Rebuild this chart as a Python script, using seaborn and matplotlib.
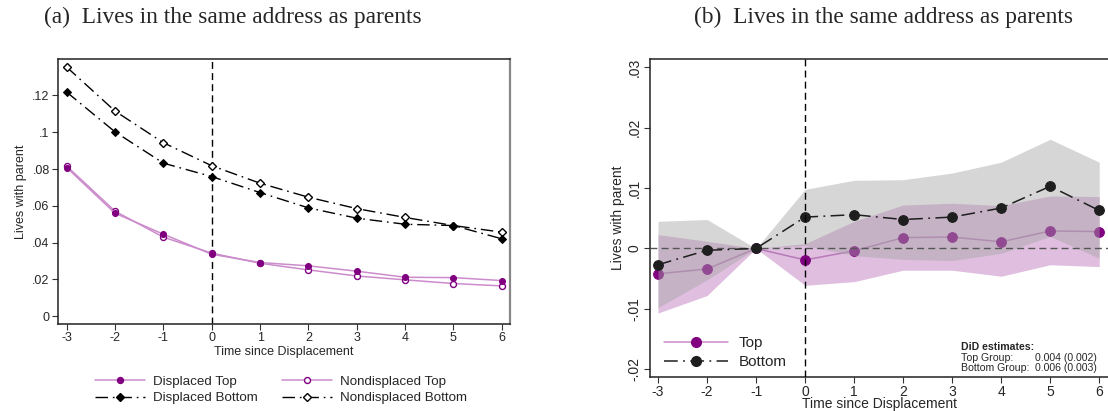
import numpy as np
import pandas as pd
import matplotlib
matplotlib.use("Agg")
import matplotlib.pyplot as plt
import seaborn as sns
from matplotlib.lines import Line2D

# ---- data -------------------------------------------------------------
years = [-3, -2, -1, 0, 1, 2, 3, 4, 5, 6]

# Panel (a): raw shares living at the parents' address
displaced_top = [0.0808, 0.0560, 0.0446, 0.0337, 0.0292, 0.0274, 0.0245, 0.0212, 0.0210, 0.0194]
nondisplaced_top = [0.0816, 0.0571, 0.0430, 0.0343, 0.0288, 0.0252, 0.0219, 0.0198, 0.0178, 0.0165]
displaced_bottom = [0.1218, 0.1002, 0.0832, 0.0759, 0.0672, 0.0589, 0.0533, 0.0500, 0.0493, 0.0421]
nondisplaced_bottom = [0.1354, 0.1115, 0.0943, 0.0818, 0.0723, 0.0647, 0.0585, 0.0537, 0.0493, 0.0457]

# Panel (b): event-study estimates with confidence bands
top_est = [-0.0042, -0.0034, 0.0, -0.0019, -0.0004, 0.0018, 0.0019, 0.0011, 0.0029, 0.0028]
top_lo = [-0.0107, -0.0078, 0.0, -0.0061, -0.0055, -0.0036, -0.0036, -0.0046, -0.0027, -0.0030]
top_hi = [0.0023, 0.0012, 0.0, 0.0008, 0.0045, 0.0072, 0.0075, 0.0071, 0.0087, 0.0086]
bottom_est = [-0.0027, -0.0003, 0.0, 0.0052, 0.0056, 0.0048, 0.0052, 0.0067, 0.0103, 0.0063]
bottom_lo = [-0.0098, -0.0052, 0.0, 0.0005, -0.0012, -0.0018, -0.0020, -0.0008, 0.0020, -0.0016]
bottom_hi = [0.0045, 0.0048, 0.0, 0.0098, 0.0113, 0.0114, 0.0125, 0.0143, 0.0181, 0.0143]

left_yticks = [0, 0.02, 0.04, 0.06, 0.08, 0.10, 0.12]
left_yticklabels = ["0", ".02", ".04", ".06", ".08", ".1", ".12"]
right_yticks = [-0.02, -0.01, 0, 0.01, 0.02, 0.03]
right_yticklabels = ["-.02", "-.01", "0", ".01", ".02", ".03"]

titles = ["(a)  Lives in the same address as parents",
          "(b)  Lives in the same address as parents"]
did_rows = [("Top Group:", "0.004 (0.002)"), ("Bottom Group:", "0.006 (0.003)")]

# ---- style ------------------------------------------------------------
sns.set_style("ticks")
plt.rcParams["font.family"] = ["Liberation Sans", "DejaVu Sans"]

PURPLE = "#800080"
LIGHT_PURPLE = "#cc8ccc"
DARK = "#1e1e1e"
DASHDOT = (0, (9, 3.5, 1.2, 3.5))

fig = plt.figure(figsize=(11.08, 4.11), dpi=100)
ax1 = fig.add_axes([58 / 1108, 1 - 324 / 411, 452 / 1108, 265 / 411])
ax2 = fig.add_axes([650 / 1108, 1 - 377 / 411, 460 / 1108, 318 / 411])

# ---- panel (a) --------------------------------------------------------
df_a = pd.DataFrame({"year": years, "dt": displaced_top, "nt": nondisplaced_top,
                     "db": displaced_bottom, "nb": nondisplaced_bottom})

sns.lineplot(data=df_a, x="year", y="nt", ax=ax1, color=LIGHT_PURPLE, lw=1.1,
             marker="o", markersize=4.3, markerfacecolor="white",
             markeredgecolor=PURPLE, markeredgewidth=1.0, zorder=3)
sns.lineplot(data=df_a, x="year", y="dt", ax=ax1, color=LIGHT_PURPLE, lw=1.1,
             marker="o", markersize=4.3, markerfacecolor=PURPLE,
             markeredgecolor=PURPLE, zorder=3)
sns.lineplot(data=df_a, x="year", y="nb", ax=ax1, color="black", lw=1.0,
             linestyle=DASHDOT, marker="D", markersize=4.3, markerfacecolor="white",
             markeredgecolor="black", markeredgewidth=1.0, zorder=3)
sns.lineplot(data=df_a, x="year", y="db", ax=ax1, color="black", lw=1.0,
             linestyle=DASHDOT, marker="D", markersize=4.3, markerfacecolor="black",
             markeredgecolor="black", zorder=3)
ax1.axvline(0, color="black", lw=1.0, ls=(0, (5, 3)), zorder=2)

ax1.set_xlim(-3.18, 6.17)
ax1.set_ylim(-0.0042, 0.1398)
ax1.set_xticks(years)
ax1.set_xticklabels([str(y) for y in years])
ax1.set_yticks(left_yticks)
ax1.set_yticklabels(left_yticklabels)
ax1.set_xlabel("Time since Displacement", fontsize=9, labelpad=1)
ax1.set_ylabel("Lives with parent", fontsize=9, labelpad=4)
ax1.tick_params(labelsize=9, length=4, width=0.8, pad=2, color="#333333")
for side in ["top", "right", "left", "bottom"]:
    ax1.spines[side].set_visible(True)
    ax1.spines[side].set_linewidth(1.1)
    ax1.spines[side].set_color("#222222")
ax1.spines["right"].set_color("#888888")
ax1.spines["right"].set_linewidth(1.6)

handles_a = [
    Line2D([], [], color=LIGHT_PURPLE, lw=1.1, marker="o", markersize=4.3,
           markerfacecolor=PURPLE, markeredgecolor=PURPLE),
    Line2D([], [], color="black", lw=1.0, linestyle=DASHDOT, marker="D", markersize=4.3,
           markerfacecolor="black", markeredgecolor="black"),
    Line2D([], [], color=LIGHT_PURPLE, lw=1.1, marker="o", markersize=4.3,
           markerfacecolor="white", markeredgecolor=PURPLE),
    Line2D([], [], color="black", lw=1.0, linestyle=DASHDOT, marker="D", markersize=4.3,
           markerfacecolor="white", markeredgecolor="black"),
]
labels_a = ["Displaced Top", "Displaced Bottom", "Nondisplaced Top", "Nondisplaced Bottom"]
fig.legend(handles_a, labels_a, ncol=2, frameon=False, fontsize=9.6,
           loc="center", bbox_to_anchor=(281 / 1108, 1 - 390 / 411),
           handlelength=3.75, handletextpad=0.6, columnspacing=1.8, labelspacing=0.3)

# ---- panel (b) --------------------------------------------------------
df_b = pd.DataFrame({"year": years, "top": top_est, "top_lo": top_lo, "top_hi": top_hi,
                     "bottom": bottom_est, "bottom_lo": bottom_lo, "bottom_hi": bottom_hi})

ax2.fill_between(df_b["year"], df_b["top_lo"], df_b["top_hi"],
                 color="#dfbedf", lw=0, zorder=1)
sns.lineplot(data=df_b, x="year", y="top", ax=ax2, color="#b77ab7", lw=1.1,
             marker="o", markersize=7, markerfacecolor=PURPLE,
             markeredgecolor=PURPLE, zorder=2)
ax2.fill_between(df_b["year"], df_b["bottom_lo"], df_b["bottom_hi"],
                 color="#a6a6a6", alpha=0.45, lw=0, zorder=3)
ax2.axhline(0, color="#555555", lw=1.0, ls=(0, (5, 3)), zorder=4)
sns.lineplot(data=df_b, x="year", y="bottom", ax=ax2, color=DARK, lw=1.1,
             linestyle=DASHDOT, marker="o", markersize=7, markerfacecolor=DARK,
             markeredgecolor=DARK, zorder=5)
ax2.axvline(0, color="black", lw=1.0, ls=(0, (5, 3)), zorder=6)

ax2.set_xlim(-3.163, 6.22)
ax2.set_ylim(-0.0213, 0.0314)
ax2.set_xticks(years)
ax2.set_xticklabels([str(y) for y in years])
ax2.set_yticks(right_yticks)
ax2.set_yticklabels(right_yticklabels, rotation=90, va="center")
ax2.set_xlabel("Time since Displacement", fontsize=10, labelpad=-1.5)
ax2.set_ylabel("Lives with parent", fontsize=10, labelpad=2)
ax2.tick_params(labelsize=10, length=4, width=0.8, pad=2, color="#333333")
for side in ["top", "right", "left", "bottom"]:
    ax2.spines[side].set_visible(True)
    ax2.spines[side].set_linewidth(1.1)
    ax2.spines[side].set_color("#222222")

handles_b = [
    Line2D([], [], color="#cc8ccc", lw=1.1, marker="o", markersize=7,
           markerfacecolor=PURPLE, markeredgecolor=PURPLE),
    Line2D([], [], color=DARK, lw=1.1, linestyle=DASHDOT, marker="o", markersize=7,
           markerfacecolor=DARK, markeredgecolor=DARK),
]
ax2.legend(handles_b, ["Top", "Bottom"], loc="lower left", frameon=False, fontsize=11,
           bbox_to_anchor=(0.0, -0.018), handlelength=4.2, handletextpad=0.7,
           labelspacing=0.3)

# DiD summary box
fig.text(961 / 1108, 1 - 347 / 411, "DiD estimates:", fontsize=7.6, fontweight="bold",
         va="center", ha="left")
for i, (name, val) in enumerate(did_rows):
    yy = 1 - (357.5 + 10 * i) / 411
    fig.text(961 / 1108, yy, name, fontsize=7.6, va="center", ha="left")
    fig.text(1035 / 1108, yy, val, fontsize=7.6, va="center", ha="left")

# ---- titles -----------------------------------------------------------
fig.text(233 / 1108, 1 - 17 / 411, titles[0], fontsize=16.8,
         family=["Liberation Serif", "DejaVu Serif"], ha="center", va="center")
fig.text(884 / 1108, 1 - 17 / 411, titles[1], fontsize=16.8,
         family=["Liberation Serif", "DejaVu Serif"], ha="center", va="center")

fig.savefig("out.png", dpi=100)
